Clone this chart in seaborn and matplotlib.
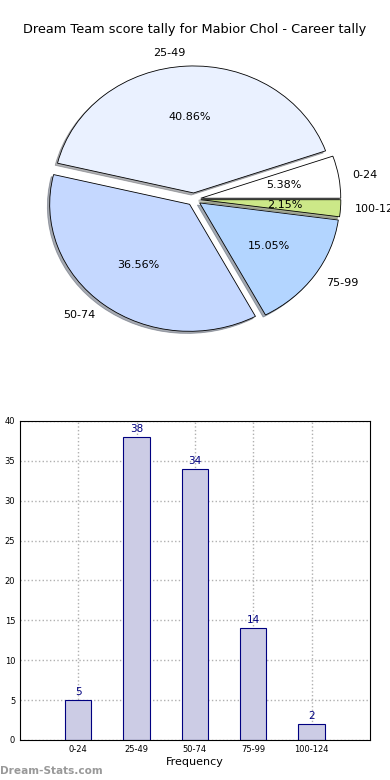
import seaborn as sns
import matplotlib
matplotlib.use("Agg")
import matplotlib.pyplot as plt

# score brackets and how many games fell in each
categories = ['0-24', '25-49', '50-74', '75-99', '100-124']
counts = [5, 38, 34, 14, 2]
pie_colors = ['#ffffff', '#eaf1ff', '#c5d8ff', '#b3d5ff', '#cce888']
explode = [0.05, 0.05, 0.05, 0.05, 0.05]

sns.set_style("white")
plt.rcParams['font.family'] = ['DejaVu Sans']
plt.rcParams['text.color'] = 'black'
plt.rcParams['xtick.color'] = 'black'
plt.rcParams['ytick.color'] = 'black'
plt.rcParams['axes.labelcolor'] = 'black'

fig = plt.figure(figsize=(3.9, 7.8), dpi=100)

# pie chart on top
ax1 = fig.add_axes([0.0487, 0.541, 0.897, 0.407])
ax1.pie(counts, labels=categories, colors=pie_colors, explode=explode,
        autopct='%.2f%%', shadow={'ox': -0.012, 'oy': -0.012, 'shade': 0.6},
        startangle=0,
        wedgeprops={'edgecolor': 'black', 'linewidth': 0.6},
        textprops={'fontsize': 8})
ax1.set_aspect('auto')
ax1.set_xlim(-1.25, 1.25)
ax1.set_ylim(-1.25, 1.25)
ax1.axis('off')
fig.text(0.5, 1 - 30 / 780, 'Dream Team score tally for Mabior Chol - Career tally',
         ha='center', va='center', fontsize=9.3)

# bar chart below
ax2 = fig.add_axes([0.0513, 0.0513, 0.897, 0.409])
sns.barplot(x=categories, y=counts, ax=ax2, width=0.45, color='#ccccE5',
            saturation=1, edgecolor='#000080', linewidth=0.8, zorder=2)
for i, v in enumerate(counts):
    ax2.text(i, v + 0.4, str(v), ha='center', va='bottom', color='#000080', fontsize=7.5)
ax2.set_xlim(-1, 5)
ax2.set_ylim(0, 40)
ax2.set_yticks(range(0, 41, 5))
ax2.tick_params(labelsize=6, length=2, direction='in')
ax2.grid(True, linestyle=':', color='#b0b0b0', linewidth=1, zorder=0)
ax2.set_axisbelow(True)
for s in ax2.spines.values():
    s.set_color('black')
    s.set_linewidth(0.8)
ax2.set_xlabel('Frequency', fontsize=8, labelpad=2)
ax2.set_ylabel('')

fig.text(0.0, 1 - 771 / 780, 'Dream-Stats.com', ha='left', va='center',
         color='#999999', fontsize=7.6, fontweight='bold')

fig.savefig('out.png', dpi=100)
